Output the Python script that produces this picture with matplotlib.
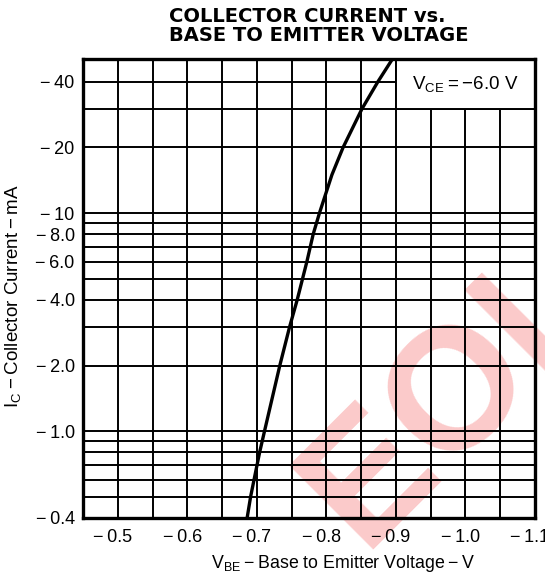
import numpy as np
import matplotlib.pyplot as plt
import matplotlib.transforms as mtransforms
from matplotlib.patches import Rectangle
from matplotlib.ticker import FixedLocator, NullFormatter

plt.rcParams['font.family'] = ['Liberation Sans', 'DejaVu Sans']
plt.rcParams['mathtext.default'] = 'regular'

# curve (V_BE in volts, I_C in mA)
vbe = [-0.686, -0.691, -0.696, -0.704, -0.711, -0.733, -0.747, -0.758,
       -0.772, -0.781, -0.790, -0.808, -0.824, -0.851, -0.874, -0.895]
ic = [-0.4, -0.5, -0.6, -0.8, -1.0, -2.0, -3.0, -4.0,
      -6.0, -8.0, -10, -15, -20, -30, -40, -50.9]

x_ticks = [-0.5, -0.6, -0.7, -0.8, -0.9, -1.0, -1.1]
x_tick_labels = ["\u2212\u20090.5", "\u2212\u20090.6", "\u2212\u20090.7", "\u2212\u20090.8",
                 "\u2212\u20090.9", "\u2212\u20091.0", "\u2212\u20091.1"]
y_ticks = [0.4, 1, 2, 4, 6, 8, 10, 20, 40]
y_tick_labels = ["\u2212\u20090.4", "\u2212\u20091.0", "\u2212\u20092.0", "\u2212\u20094.0",
                 "\u2212\u20096.0", "\u2212\u20098.0", "\u2212\u200910", "\u2212\u200920",
                 "\u2212\u200940"]
y_grid = [0.5, 0.6, 0.7, 0.8, 0.9, 1, 2, 3, 4, 5, 6, 7, 8, 9, 10, 20, 30, 40]
x_grid = np.round(np.arange(-0.5, -1.075, -0.05), 2)

fig = plt.figure(figsize=(5.45, 5.78), dpi=100)
fig.patch.set_facecolor("white")

# watermark behind the (transparent) axes
fig.text(436 / 545, 1 - 413 / 578, "EOI", rotation=45, rotation_mode="anchor",
         ha="center", va="center", fontsize=124, fontweight="bold",
         color="#fbcaca", zorder=-1)

ax = fig.add_axes([83 / 545, 1 - 518 / 578, 452 / 545, 459 / 578])
ax.patch.set_visible(False)
ax.set_yscale("log")
ax.set_xlim(-0.45, -1.1)
ax.set_ylim(0.4, 50.9)

ax.xaxis.set_major_locator(FixedLocator(x_ticks))
ax.xaxis.set_minor_locator(FixedLocator(x_grid))
ax.set_xticklabels(x_tick_labels)
ax.yaxis.set_major_locator(FixedLocator(y_ticks))
ax.yaxis.set_minor_locator(FixedLocator(y_grid))
ax.yaxis.set_minor_formatter(NullFormatter())
ax.set_yticklabels(y_tick_labels)

ax.tick_params(which="both", length=0)
ax.tick_params(axis="x", pad=8, labelsize=13)
ax.tick_params(axis="y", pad=6, labelsize=13)
shift = mtransforms.ScaledTranslation(-5 / 100, 0, fig.dpi_scale_trans)
for lab in ax.get_xticklabels():
    lab.set_transform(lab.get_transform() + shift)

ax.set_axisbelow(True)
ax.grid(which="both", color="black", lw=1.4)
for sp in ax.spines.values():
    sp.set_linewidth(2.4)
    sp.set_zorder(5)

ax.plot(vbe, np.abs(ic), color="black", lw=2.4, zorder=3, solid_capstyle="butt")

# condition box in the upper right corner
ax.add_patch(Rectangle((-0.9, 30), -0.2, 40, facecolor="white",
                       edgecolor="black", lw=1.4, zorder=4))
ax.text(-1.0, 39, "$V_{CE}$\u2009=\u2009\u22126.0 V", ha="center", va="center",
        fontsize=13.5, zorder=6)

fig.text(169 / 545, 1 - 16 / 578, "COLLECTOR CURRENT vs.", ha="left", va="center",
         fontsize=14, fontweight="bold", family="DejaVu Sans")
fig.text(169 / 545, 1 - 35.5 / 578, "BASE TO EMITTER VOLTAGE", ha="left", va="center",
         fontsize=14, fontweight="bold", family="DejaVu Sans")

fig.text(343 / 545, 1 - 563 / 578, "$V_{BE}$\u2009\u2212\u2009Base to Emitter Voltage\u2009\u2212\u2009V",
         ha="center", va="center", fontsize=12.8)
fig.text(13 / 545, 1 - 296 / 578, "$I_C$\u2009\u2212\u2009Collector Current\u2009\u2212\u2009mA",
         ha="center", va="center", rotation=90, fontsize=13.5)

fig.savefig("out.png", dpi=100)
